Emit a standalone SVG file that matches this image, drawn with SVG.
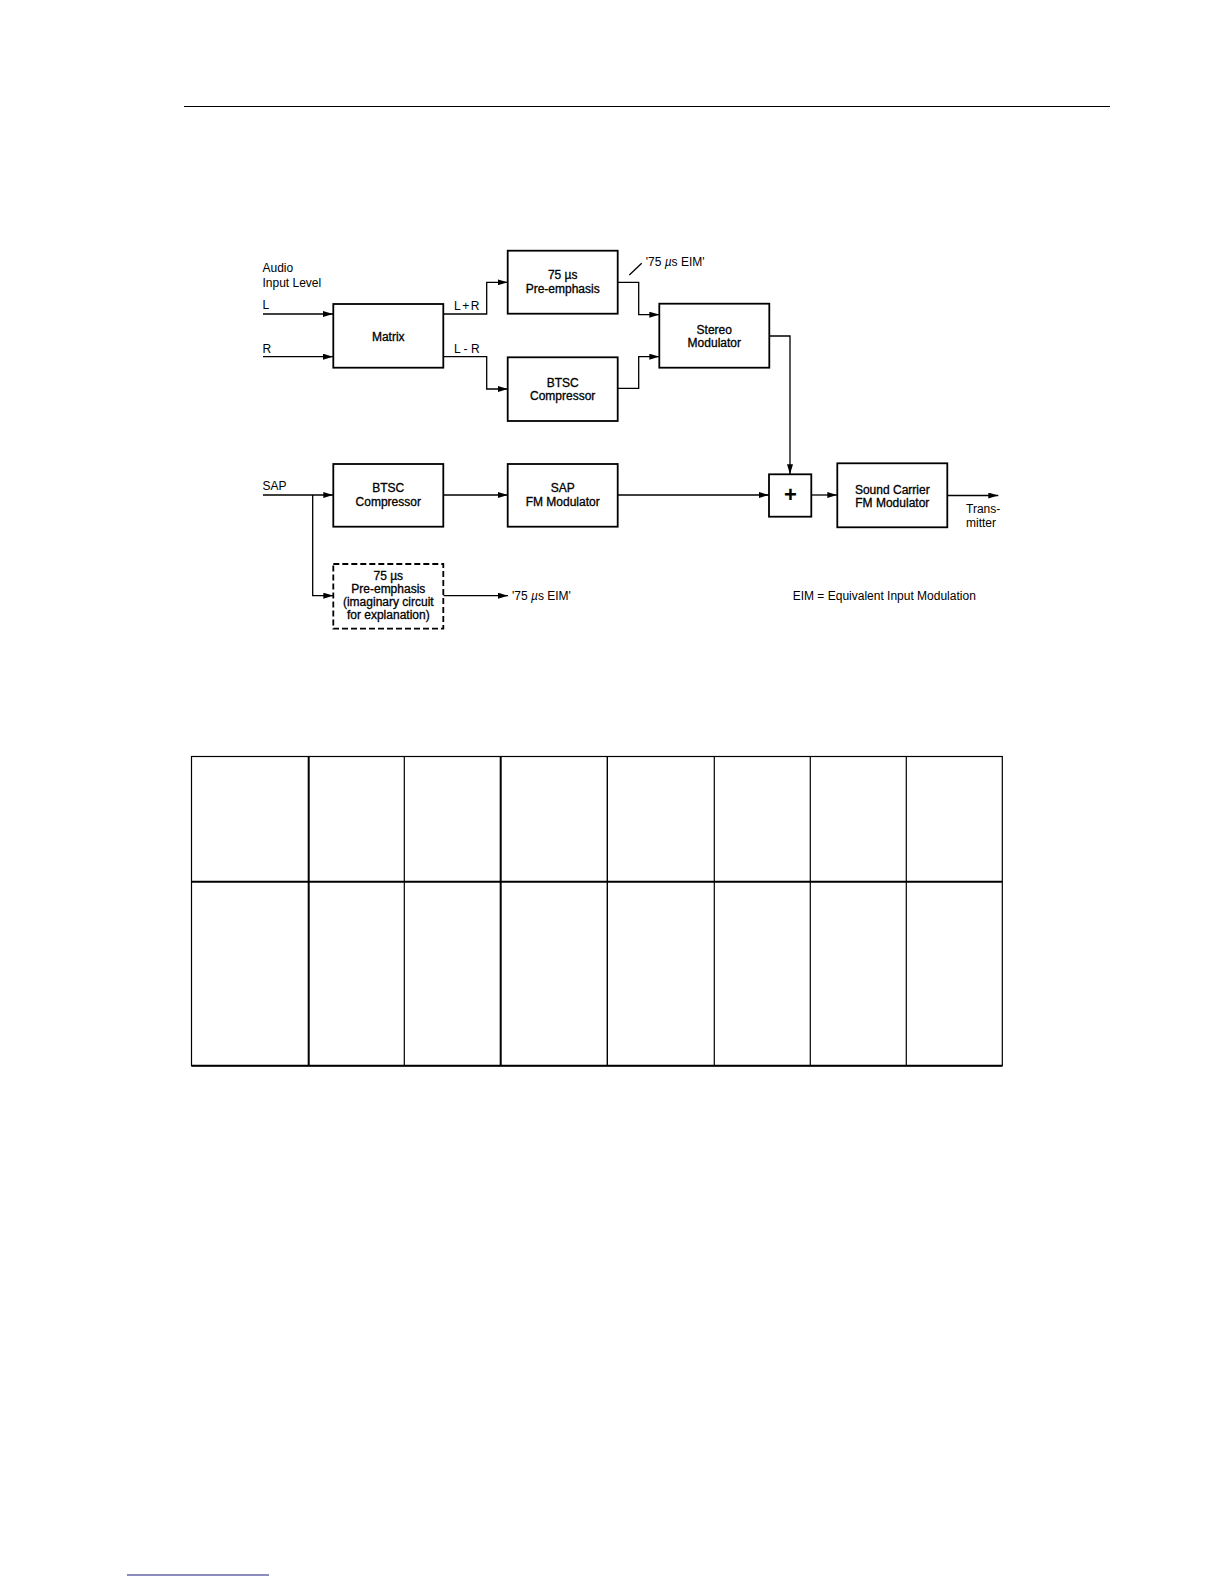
<svg xmlns="http://www.w3.org/2000/svg" width="1224" height="1584" viewBox="0 0 1224 1584">
<style>
text{font-family:"Liberation Sans",Arial,Helvetica,sans-serif;font-size:12px;fill:#000}
.bl{text-anchor:middle;stroke:#000;stroke-width:0.3}
.plus{text-anchor:middle;font-size:22px;font-weight:bold}
.box{fill:#fff;stroke:#000;stroke-width:1.8}
.dash{fill:#fff;stroke:#000;stroke-width:1.8;stroke-dasharray:6 3}
.con{fill:none;stroke:#000;stroke-width:1.3}
.tb{stroke:#000;fill:none}
</style>
<defs>
<marker id="ah" markerUnits="userSpaceOnUse" markerWidth="10" markerHeight="6" refX="10" refY="3" orient="auto">
<path d="M0,0 L10,3 L0,6 z" fill="#000"/>
</marker>
</defs>
<rect width="1224" height="1584" fill="#fff"/>
<line x1="184" y1="106.5" x2="1110" y2="106.5" stroke="#000" stroke-width="1"/>

<g id="connectors">
<path class="con" d="M263,314 H333" marker-end="url(#ah)"/>
<path class="con" d="M263,356.7 H333" marker-end="url(#ah)"/>
<path class="con" d="M443.3,314 H486.7 V282.3 H507.7" marker-end="url(#ah)"/>
<path class="con" d="M443.3,356.7 H486.7 V389 H507.7" marker-end="url(#ah)"/>
<path class="con" d="M617.7,282.3 H638.7 V314.7 H659.3" marker-end="url(#ah)"/>
<path class="con" d="M617.7,388.3 H638.7 V356.7 H659.3" marker-end="url(#ah)"/>
<path class="con" d="M769.3,336 H790 V474.3" marker-end="url(#ah)"/>
<path class="con" d="M263,495 H333.3" marker-end="url(#ah)"/>
<path class="con" d="M312.7,495 V595.7 H333.3" marker-end="url(#ah)"/>
<path class="con" d="M443.3,495 H507.7" marker-end="url(#ah)"/>
<path class="con" d="M617.7,495 H769" marker-end="url(#ah)"/>
<path class="con" d="M811.3,495 H837.3" marker-end="url(#ah)"/>
<path class="con" d="M947.3,495.5 H998.3" marker-end="url(#ah)"/>
<path class="con" d="M443.3,595.7 H508" marker-end="url(#ah)"/>
<path class="con" stroke-width="0.8" d="M629.3,275 L641.7,263.3"/>
</g>

<g id="labels">
<text x="262.5" y="272.3">Audio</text>
<text x="262.5" y="287.3">Input Level</text>
<text x="262.5" y="309.3">L</text>
<text x="262.5" y="353.3">R</text>
<text x="454" y="310" letter-spacing="1.5">L+R</text>
<text x="454" y="353.3">L - R</text>
<text x="262.5" y="490">SAP</text>
<text x="645.7" y="265.5">'75 <tspan font-style="italic">µ</tspan>s EIM'</text>
<text x="512" y="600">'75 <tspan font-style="italic">µ</tspan>s EIM'</text>
<text x="966" y="513.3">Trans-</text>
<text x="966" y="526.7">mitter</text>
<text x="792.7" y="600">EIM = Equivalent Input Modulation</text>
</g>

<g id="matrix">
<rect class="box" x="333.3" y="304" width="110" height="63.7"/>
<text class="bl" x="388.3" y="340.7">Matrix</text>
</g>
<g id="preemphasis">
<rect class="box" x="507.7" y="250.7" width="110" height="63"/>
<text class="bl" x="562.7" y="279">75 µs</text>
<text class="bl" x="562.7" y="292.5">Pre-emphasis</text>
</g>
<g id="btsc1">
<rect class="box" x="507.7" y="357.3" width="110" height="63.7"/>
<text class="bl" x="562.7" y="386.7">BTSC</text>
<text class="bl" x="562.7" y="400">Compressor</text>
</g>
<g id="stereo">
<rect class="box" x="659.3" y="303.7" width="110" height="64"/>
<text class="bl" x="714.3" y="334">Stereo</text>
<text class="bl" x="714.3" y="347.3">Modulator</text>
</g>
<g id="btsc2">
<rect class="box" x="333.3" y="464" width="110" height="62.7"/>
<text class="bl" x="388.3" y="492.3">BTSC</text>
<text class="bl" x="388.3" y="506">Compressor</text>
</g>
<g id="sapfm">
<rect class="box" x="507.7" y="464" width="110" height="62.7"/>
<text class="bl" x="562.7" y="492.3">SAP</text>
<text class="bl" x="562.7" y="506">FM Modulator</text>
</g>
<g id="sum">
<rect class="box" x="769" y="474.3" width="42.3" height="42.4"/>
<text class="plus" x="790.5" y="502">+</text>
</g>
<g id="soundcarrier">
<rect class="box" x="837.3" y="463.3" width="110" height="64"/>
<text class="bl" x="892.3" y="493.7">Sound Carrier</text>
<text class="bl" x="892.3" y="507.3">FM Modulator</text>
</g>
<g id="imaginary">
<rect class="dash" x="333.3" y="564" width="110" height="64.7"/>
<text class="bl" x="388.3" y="579.5">75 µs</text>
<text class="bl" x="388.3" y="592.5">Pre-emphasis</text>
<text class="bl" x="388.3" y="605.5">(imaginary circuit</text>
<text class="bl" x="388.3" y="619">for explanation)</text>
</g>

<g id="table">
<rect class="tb" x="191.5" y="756.5" width="810.8" height="309.2" stroke-width="1.2"/>
<line class="tb" x1="191.5" y1="881.7" x2="1002.3" y2="881.7" stroke-width="2"/>
<line class="tb" x1="191.5" y1="1065.7" x2="1002.3" y2="1065.7" stroke-width="2"/>
<line class="tb" x1="308.7" y1="756.5" x2="308.7" y2="1065.7" stroke-width="2"/>
<line class="tb" x1="404.3" y1="756.5" x2="404.3" y2="1065.7" stroke-width="1.2"/>
<line class="tb" x1="500.7" y1="756.5" x2="500.7" y2="1065.7" stroke-width="2"/>
<line class="tb" x1="607.3" y1="756.5" x2="607.3" y2="1065.7" stroke-width="1.4"/>
<line class="tb" x1="714.3" y1="756.5" x2="714.3" y2="1065.7" stroke-width="1.2"/>
<line class="tb" x1="810.3" y1="756.5" x2="810.3" y2="1065.7" stroke-width="1.2"/>
<line class="tb" x1="906.3" y1="756.5" x2="906.3" y2="1065.7" stroke-width="1.2"/>
</g>

<line x1="127" y1="1575" x2="269" y2="1575" stroke="#1a1a80" stroke-width="1.2"/>
</svg>
